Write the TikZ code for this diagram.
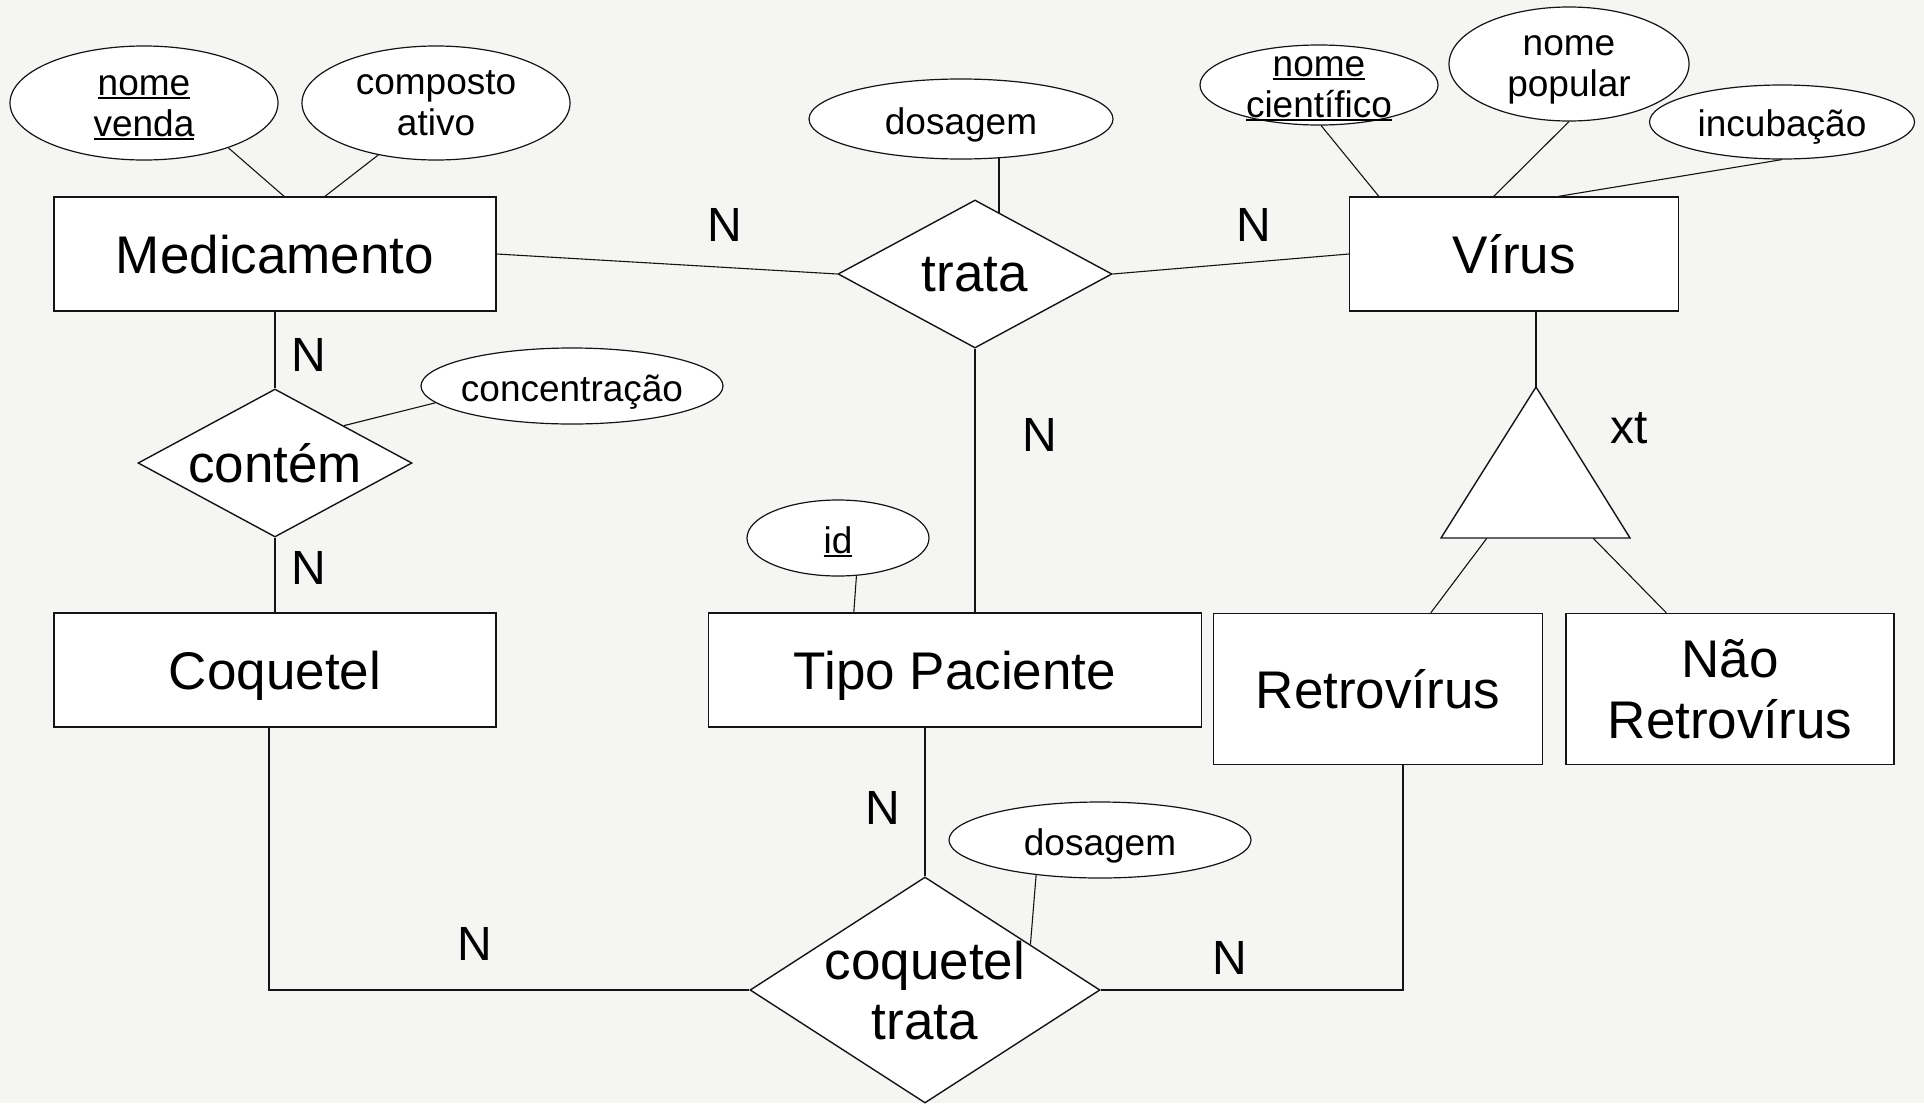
\documentclass[tikz,border=0pt]{standalone}
\usepackage{fontspec}
\setmainfont{Liberation Sans}
\usetikzlibrary{shapes.geometric,calc}
\pgfdeclarelayer{back}
\pgfdeclarelayer{lines}
\pgfsetlayers{back,lines,main}
\definecolor{bgc}{RGB}{245,245,243}
\definecolor{ink}{RGB}{20,20,20}
\newcommand\myul[1]{\leavevmode\setbox0=\hbox{#1}\rlap{\copy0}\rule[-0.09em]{\wd0}{0.06em}}
\tikzset{
 entity/.style={draw=ink, line width=1.4pt, fill=white, rectangle, inner sep=0pt, font=\fontsize{53}{61}\selectfont, align=center, text depth=0pt},
 rel/.style={draw=ink, line width=1.4pt, fill=white, diamond, inner sep=0pt},
 attr/.style={draw=ink, line width=1.2pt, fill=white, ellipse, inner sep=0pt},
 bigtxt/.style={font=\fontsize{53}{60}\selectfont, align=center, inner sep=0pt, text depth=0pt},
 smalltxt/.style={font=\fontsize{37}{41}\selectfont, align=center, inner sep=0pt, text depth=0pt},
 card/.style={font=\fontsize{48}{54}\selectfont, inner sep=0pt, text depth=0pt},
 conn/.style={draw=ink, line width=1.1pt},
}
\begin{document}
\begin{tikzpicture}[x=1pt,y=-1pt]
\begin{pgfonlayer}{back}
\fill[bgc] (0,0) rectangle (1924,1103);
\end{pgfonlayer}
\useasboundingbox (0,0) rectangle (1924,1103);

% entities
\node[entity, minimum width=442pt, minimum height=114pt] (med) at (275,254) {Medicamento};
\node[entity, minimum width=329pt, minimum height=114pt] (vir) at (1514,254) {Vírus};
\node[entity, minimum width=442pt, minimum height=114pt] (coq) at (275,670) {Coquetel};
\node[entity, minimum width=493pt, minimum height=114pt] (tp) at (955,670) {Tipo Paciente};
\node[entity, minimum width=329pt, minimum height=151pt] (retro) at (1378,689) {Retrovírus};
\node[entity, minimum width=328pt, minimum height=151pt] (nretro) at (1730,689) {Não\\Retrovírus};

% relationships
\node[rel, minimum width=274pt, minimum height=148pt] (trata) at (975,274) {};
\node[bigtxt] (tratat) at (975,274) {trata};
\node[rel, minimum width=274pt, minimum height=148pt] (con) at (275,463) {};
\node[bigtxt] (cont) at (275,463) {contém};
\node[rel, minimum width=350pt, minimum height=226pt] (ct) at (925,990) {};
\node[bigtxt] (ctt) at (925,990) {coquetel\\trata};

% attributes
\node[attr, minimum width=268pt, minimum height=114pt] (nv) at (144,103) {};
\node[smalltxt] (nvt) at (144,106) {\myul{nome}\\\myul{venda}};
\node[attr, minimum width=268pt, minimum height=114pt] (ca) at (436,103) {};
\node[smalltxt] (cat) at (436,103) {composto\\ativo};
\node[attr, minimum width=304pt, minimum height=80pt] (dos1) at (961,119) {};
\node[smalltxt] (dos1t) at (961,121) {dosagem};
\node[attr, minimum width=238pt, minimum height=80pt] (nc) at (1319,85) {};
\node[smalltxt] (nct) at (1319,87) {\myul{nome}\\\myul{científico}};
\node[attr, minimum width=240pt, minimum height=114pt] (np) at (1569,64) {};
\node[smalltxt] (npt) at (1569,66) {nome\\popular};
\node[attr, minimum width=265pt, minimum height=74pt] (inc) at (1782,122) {};
\node[smalltxt] (inct) at (1782,123) {incubação};
\node[attr, minimum width=302pt, minimum height=76pt] (conc) at (572,386) {};
\node[smalltxt] (conct) at (572,388) {concentração};
\node[attr, minimum width=182pt, minimum height=76pt] (id) at (838,538) {};
\node[smalltxt] (idt) at (838,540) {\myul{id}};
\node[attr, minimum width=302pt, minimum height=76pt] (dos2) at (1100,840) {};
\node[smalltxt] (dos2t) at (1100,842) {dosagem};

% specialization triangle
\coordinate (tA) at (1536,387);
\coordinate (tL) at (1441,538);
\coordinate (tR) at (1630,538);
\coordinate (tLc) at (1487,538);
\coordinate (tRc) at (1593,538);
\filldraw[fill=white, draw=ink, line width=1.4pt] (tA) -- (tL) -- (tR) -- cycle;

% cardinalities
\node[card] (n1) at (725,225) {N};
\node[card] (n2) at (1254,225) {N};
\node[card] (n3) at (309,355) {N};
\node[card] (n4) at (309,568) {N};
\node[card] (n5) at (1040,435) {N};
\node[card] (n6) at (883,808) {N};
\node[card] (n7) at (475,944) {N};
\node[card] (n8) at (1230,958) {N};
\node[card] (xt) at (1629,428) {xt};

\begin{pgfonlayer}{lines}
\draw[conn] (nv.-28) -- ($(med.north)+(9,0)$);
\draw[conn] (ca.-138) -- ($(med.north)+(50,0)$);
\draw[conn] (med.east) -- (trata.west);
\draw[conn] (trata.east) -- (vir.west);
\draw[conn] ($(dos1.center)+(38,0)$) -- ($(trata.center)+(24,0)$);
\draw[conn] (trata.south) -- (trata.south |- tp.north);
\draw[conn] (nc.-87) -- ($(vir.north west)+(30,0)$);
\draw[conn] (np.south) -- ($(vir.north west)+(145,0)$);
\draw[conn] (inc.south) -- ($(vir.north west)+(210,0)$);
\draw[conn] (tA) -- (tA |- vir.south);
\draw[conn] (tLc) -- ($(retro.north west)+(218,0)$);
\draw[conn] (tRc) -- ($(nretro.north west)+(101,0)$);
\draw[conn] (med.south) -- (con.north);
\draw[conn] (conc.-173) -- (con.north east);
\draw[conn] (con.south) -- (coq.north);
\draw[conn] (id.-64) -- ($(tp.north west)+(146,0)$);
\draw[conn] (ct.north) -- (ct.north |- tp.south);
\draw[conn] ($(dos2.center)+(-61,0)$) -- ($(ct.north)!0.6!(ct.east)$);
\draw[conn] ($(coq.south)+(-6,0)$) |- (ct.west);
\draw[conn] (ct.east) -| ($(retro.south)+(25,0)$);
\end{pgfonlayer}
\end{tikzpicture}
\end{document}
